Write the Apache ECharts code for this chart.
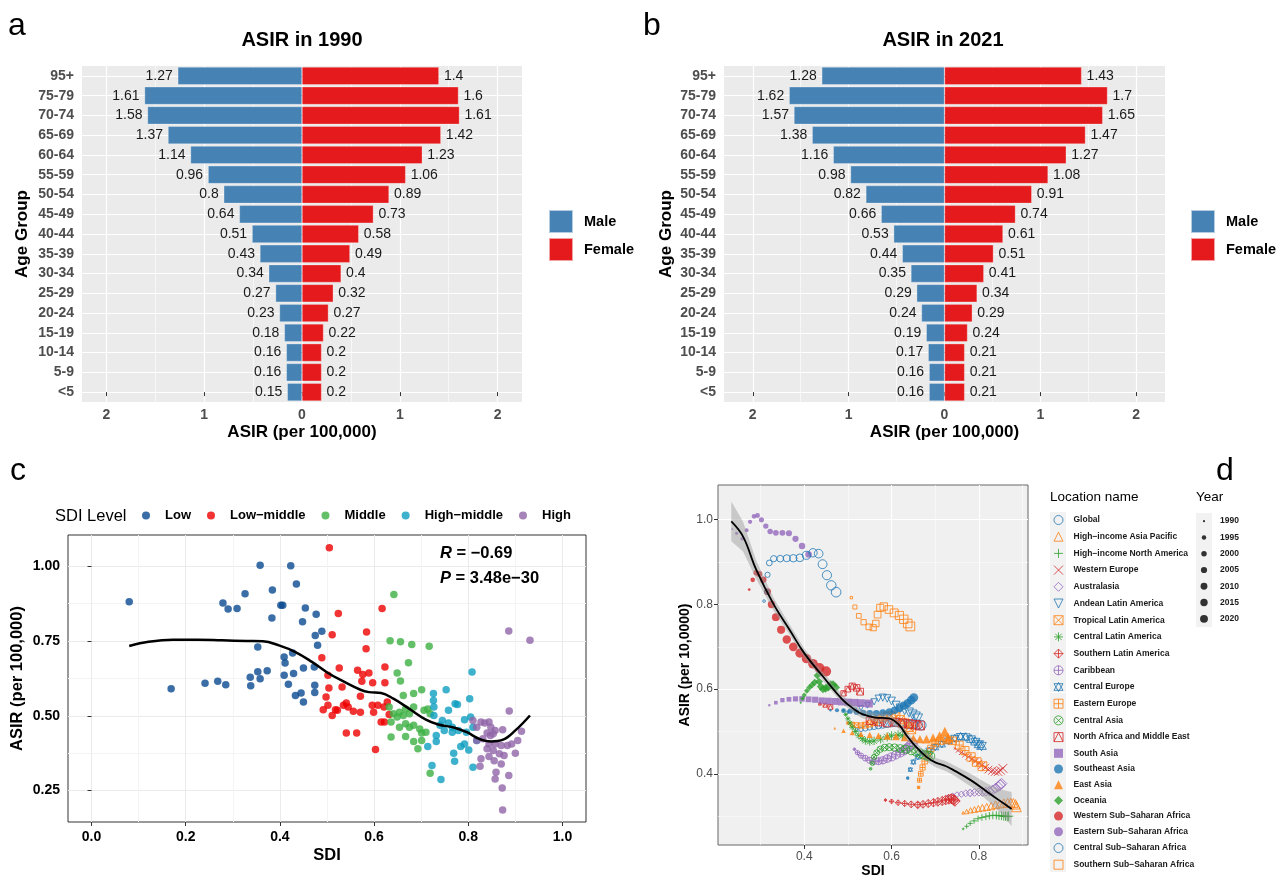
<!DOCTYPE html>
<html>
<head>
<meta charset="utf-8">
<title>ASIR figure</title>
<script src="https://cdn.jsdelivr.net/npm/echarts@6.0.0/dist/echarts.min.js"></script>
<style>
html, body { margin: 0; padding: 0; background: #fff; }
#main { width: 1286px; height: 879px; }
</style>
</head>
<body>
<div id="main"></div>
<script>
// ---------- panels a / b : age pyramids ----------
var ageGroups = ['<5', '5-9', '10-14', '15-19', '20-24', '25-29', '30-34', '35-39', '40-44', '45-49', '50-54', '55-59', '60-64', '65-69', '70-74', '75-79', '95+'];
var male1990 = [0.15, 0.16, 0.16, 0.18, 0.23, 0.27, 0.34, 0.43, 0.51, 0.64, 0.8, 0.96, 1.14, 1.37, 1.58, 1.61, 1.27];
var female1990 = [0.2, 0.2, 0.2, 0.22, 0.27, 0.32, 0.4, 0.49, 0.58, 0.73, 0.89, 1.06, 1.23, 1.42, 1.61, 1.6, 1.4];
var male2021 = [0.16, 0.16, 0.17, 0.19, 0.24, 0.29, 0.35, 0.44, 0.53, 0.66, 0.82, 0.98, 1.16, 1.38, 1.57, 1.62, 1.28];
var female2021 = [0.21, 0.21, 0.21, 0.24, 0.29, 0.34, 0.41, 0.51, 0.61, 0.74, 0.91, 1.08, 1.27, 1.47, 1.65, 1.7, 1.43];
var pyramidTicks = [-2, -1, 0, 1, 2];
var pyramidMinor = [-1.5, -0.5, 0.5, 1.5];

// ---------- panel c : countries ----------
var sdiLevels = ['Low', 'Low\u2212middle', 'Middle', 'High\u2212middle', 'High'];
var lowPts = [[0.080,0.881],[0.169,0.590],[0.241,0.609],[0.268,0.615],[0.285,0.604],[0.279,0.877],[0.290,0.857],[0.309,0.858],[0.326,0.908],[0.337,0.629],[0.338,0.600],[0.353,0.730],[0.353,0.647],[0.358,0.624],[0.358,1.003],[0.373,0.650],[0.384,0.920],[0.383,0.827],[0.402,0.869],[0.406,0.869],[0.409,0.696],[0.411,0.676],[0.409,0.635],[0.418,0.605],[0.423,1.001],[0.427,0.710],[0.429,0.641],[0.433,0.568],[0.435,0.940],[0.445,0.576],[0.448,0.814],[0.450,0.660],[0.450,0.546],[0.454,0.860],[0.473,0.663],[0.475,0.768],[0.474,0.602],[0.474,0.578],[0.477,0.839],[0.480,0.736],[0.489,0.782]];
var lowMidPts = [[0.505,1.061],[0.511,0.771],[0.489,0.694],[0.524,0.842],[0.526,0.660],[0.502,0.635],[0.504,0.593],[0.498,0.563],[0.502,0.535],[0.492,0.520],[0.511,0.501],[0.522,0.518],[0.532,0.596],[0.535,0.535],[0.541,0.543],[0.545,0.529],[0.541,0.442],[0.565,0.652],[0.563,0.442],[0.571,0.565],[0.571,0.512],[0.574,0.615],[0.576,0.638],[0.584,0.780],[0.583,0.724],[0.589,0.643],[0.596,0.535],[0.597,0.610],[0.599,0.512],[0.603,0.387],[0.608,0.535],[0.615,0.479],[0.617,0.858],[0.621,0.529],[0.623,0.610],[0.623,0.663],[0.628,0.546],[0.622,0.479],[0.632,0.504],[0.518,0.520],[0.556,0.515]];
var midPts = [[0.642,0.905],[0.634,0.751],[0.656,0.747],[0.680,0.738],[0.717,0.732],[0.673,0.677],[0.649,0.643],[0.656,0.616],[0.662,0.568],[0.684,0.574],[0.701,0.587],[0.632,0.529],[0.641,0.507],[0.649,0.496],[0.654,0.512],[0.662,0.501],[0.667,0.523],[0.675,0.507],[0.684,0.529],[0.706,0.518],[0.714,0.523],[0.719,0.507],[0.636,0.479],[0.654,0.462],[0.667,0.473],[0.675,0.462],[0.684,0.468],[0.697,0.456],[0.701,0.442],[0.710,0.445],[0.636,0.429],[0.667,0.431],[0.684,0.414],[0.701,0.417],[0.693,0.390],[0.719,0.308]];
var highMidPts = [[0.808,0.646],[0.753,0.587],[0.726,0.574],[0.726,0.551],[0.727,0.529],[0.727,0.501],[0.745,0.484],[0.740,0.468],[0.749,0.451],[0.758,0.476],[0.766,0.462],[0.772,0.540],[0.777,0.538],[0.803,0.557],[0.732,0.434],[0.732,0.414],[0.714,0.397],[0.723,0.334],[0.742,0.287],[0.769,0.375],[0.771,0.348],[0.784,0.397],[0.792,0.406],[0.801,0.386],[0.810,0.328],[0.792,0.487],[0.805,0.496],[0.810,0.462],[0.818,0.417],[0.796,0.445],[0.766,0.445],[0.779,0.451],[0.758,0.518]];
var highPts = [[0.886,0.783],[0.931,0.752],[0.887,0.516],[0.810,0.484],[0.818,0.462],[0.827,0.479],[0.835,0.476],[0.844,0.479],[0.848,0.462],[0.857,0.451],[0.873,0.453],[0.840,0.442],[0.847,0.434],[0.853,0.440],[0.818,0.417],[0.831,0.423],[0.844,0.406],[0.857,0.406],[0.870,0.401],[0.883,0.401],[0.892,0.406],[0.905,0.417],[0.913,0.448],[0.840,0.390],[0.853,0.384],[0.866,0.373],[0.876,0.367],[0.900,0.375],[0.827,0.356],[0.844,0.364],[0.855,0.350],[0.870,0.339],[0.825,0.331],[0.859,0.311],[0.886,0.300],[0.857,0.289],[0.872,0.259],[0.873,0.185]];
var loessSdiC = [0.080,0.121,0.173,0.225,0.277,0.329,0.364,0.398,0.433,0.468,0.502,0.537,0.571,0.589,0.615,0.641,0.675,0.710,0.736,0.771,0.797,0.823,0.848,0.874,0.900,0.931];
var loessFitC = [0.733,0.747,0.754,0.754,0.752,0.750,0.749,0.735,0.713,0.680,0.643,0.613,0.587,0.579,0.576,0.557,0.523,0.487,0.471,0.460,0.445,0.423,0.414,0.420,0.451,0.501];
var cTicksX = [0, 0.2, 0.4, 0.6, 0.8, 1.0];
var cMinorX = [0.1, 0.3, 0.5, 0.7, 0.9];
var cTicksY = [0.25, 0.5, 0.75, 1.0];
var cMinorY = [0.375, 0.625, 0.875];

// ---------- panel d : regions 1990-2020 ----------
var regionNames = ['Global', 'High\u2212income Asia Pacific', 'High\u2212income North America', 'Western Europe', 'Australasia', 'Andean Latin America', 'Tropical Latin America', 'Central Latin America', 'Southern Latin America', 'Caribbean', 'Central Europe', 'Eastern Europe', 'Central Asia', 'North Africa and Middle East', 'South Asia', 'Southeast Asia', 'East Asia', 'Oceania', 'Western Sub\u2212Saharan Africa', 'Eastern Sub\u2212Saharan Africa', 'Central Sub\u2212Saharan Africa', 'Southern Sub\u2212Saharan Africa'];
var yearsD = [1990, 1992, 1994, 1996, 1998, 2000, 2002, 2004, 2006, 2008, 2010, 2012, 2014, 2016, 2018, 2020];
var yearKeys = ['1990', '1995', '2000', '2005', '2010', '2015', '2020'];
var ptsGlobal = [[0.52,0.505],[0.53,0.505],[0.54,0.507],[0.55,0.51],[0.56,0.512],[0.57,0.514],[0.58,0.516],[0.59,0.518],[0.60,0.52],[0.61,0.521],[0.62,0.52],[0.63,0.518],[0.64,0.517],[0.65,0.517],[0.66,0.516],[0.668,0.515]];
var ptsHIAP = [[0.764,0.308],[0.772,0.311],[0.781,0.314],[0.79,0.316],[0.799,0.318],[0.808,0.32],[0.818,0.322],[0.828,0.324],[0.838,0.327],[0.848,0.329],[0.857,0.331],[0.866,0.332],[0.873,0.332],[0.879,0.331],[0.884,0.328],[0.886,0.322]];
var ptsHINA = [[0.764,0.27],[0.772,0.276],[0.78,0.283],[0.789,0.289],[0.798,0.294],[0.807,0.297],[0.816,0.299],[0.824,0.301],[0.832,0.302],[0.84,0.302],[0.846,0.301],[0.852,0.301],[0.857,0.3],[0.861,0.3],[0.865,0.299],[0.868,0.3]];
var ptsWE = [[0.745,0.46],[0.752,0.455],[0.76,0.45],[0.768,0.445],[0.776,0.44],[0.784,0.435],[0.792,0.43],[0.8,0.425],[0.807,0.42],[0.815,0.415],[0.822,0.41],[0.83,0.407],[0.837,0.405],[0.844,0.405],[0.85,0.408],[0.855,0.413]];
var ptsAus = [[0.73,0.348],[0.74,0.349],[0.75,0.351],[0.76,0.352],[0.77,0.354],[0.78,0.355],[0.79,0.356],[0.8,0.357],[0.808,0.357],[0.816,0.358],[0.824,0.359],[0.832,0.362],[0.838,0.366],[0.844,0.37],[0.849,0.374],[0.852,0.377]];
var ptsAndean = [[0.50,0.545],[0.515,0.55],[0.53,0.555],[0.545,0.562],[0.56,0.57],[0.57,0.578],[0.58,0.58],[0.59,0.578],[0.60,0.572],[0.61,0.562],[0.62,0.555],[0.63,0.55],[0.64,0.545],[0.648,0.54],[0.655,0.535],[0.66,0.53]];
var ptsTropical = [[0.50,0.52],[0.51,0.517],[0.52,0.515],[0.53,0.514],[0.54,0.515],[0.55,0.518],[0.56,0.522],[0.57,0.528],[0.58,0.533],[0.59,0.537],[0.60,0.538],[0.61,0.535],[0.62,0.528],[0.63,0.52],[0.64,0.51],[0.645,0.505]];
var ptsCentralLA = [[0.49,0.55],[0.495,0.54],[0.50,0.53],[0.505,0.52],[0.51,0.51],[0.517,0.50],[0.525,0.49],[0.533,0.483],[0.54,0.478],[0.55,0.476],[0.56,0.478],[0.575,0.482],[0.59,0.487],[0.60,0.49],[0.615,0.492],[0.625,0.49]];
var ptsSouthernLA = [[0.586,0.338],[0.60,0.335],[0.615,0.332],[0.63,0.33],[0.645,0.328],[0.66,0.327],[0.672,0.328],[0.684,0.33],[0.696,0.332],[0.706,0.334],[0.716,0.336],[0.724,0.338],[0.731,0.34],[0.737,0.341],[0.742,0.339],[0.745,0.336]];
var ptsCaribbean = [[0.515,0.458],[0.522,0.45],[0.53,0.443],[0.54,0.437],[0.55,0.432],[0.56,0.43],[0.57,0.43],[0.58,0.432],[0.59,0.436],[0.60,0.44],[0.61,0.445],[0.62,0.45],[0.628,0.455],[0.635,0.46],[0.642,0.466],[0.648,0.472]];
var ptsCentralEurope = [[0.637,0.39],[0.643,0.41],[0.65,0.428],[0.66,0.44],[0.672,0.448],[0.686,0.455],[0.70,0.463],[0.715,0.47],[0.73,0.478],[0.745,0.484],[0.758,0.488],[0.77,0.487],[0.782,0.482],[0.792,0.476],[0.80,0.47],[0.806,0.466]];
var ptsEasternEurope = [[0.662,0.368],[0.664,0.385],[0.667,0.40],[0.671,0.415],[0.676,0.43],[0.682,0.445],[0.69,0.46],[0.70,0.472],[0.712,0.478],[0.726,0.48],[0.74,0.478],[0.755,0.468],[0.768,0.455],[0.782,0.44],[0.795,0.428],[0.808,0.418]];
var ptsCentralAsia = [[0.552,0.412],[0.556,0.425],[0.56,0.44],[0.566,0.45],[0.574,0.458],[0.584,0.462],[0.595,0.463],[0.607,0.462],[0.62,0.46],[0.632,0.458],[0.645,0.455],[0.656,0.452],[0.666,0.448],[0.675,0.445],[0.682,0.443],[0.688,0.442]];
var ptsNAME = [[0.436,0.565],[0.448,0.562],[0.46,0.558],[0.49,0.59],[0.50,0.60],[0.51,0.607],[0.52,0.603],[0.528,0.594],[0.55,0.525],[0.57,0.522],[0.59,0.52],[0.61,0.522],[0.625,0.52],[0.64,0.518],[0.655,0.516],[0.665,0.514]];
var ptsSouthAsia = [[0.32,0.562],[0.335,0.568],[0.35,0.574],[0.365,0.576],[0.38,0.577],[0.395,0.577],[0.41,0.576],[0.425,0.575],[0.44,0.573],[0.455,0.572],[0.47,0.571],[0.485,0.57],[0.50,0.569],[0.515,0.568],[0.53,0.567],[0.548,0.566]];
var ptsSEAsia = [[0.46,0.55],[0.475,0.55],[0.49,0.549],[0.505,0.548],[0.52,0.546],[0.535,0.544],[0.55,0.543],[0.565,0.543],[0.58,0.544],[0.595,0.546],[0.607,0.55],[0.618,0.555],[0.628,0.561],[0.637,0.567],[0.645,0.574],[0.651,0.58]];
var ptsEastAsia = [[0.47,0.508],[0.49,0.502],[0.51,0.497],[0.53,0.494],[0.55,0.492],[0.57,0.49],[0.59,0.489],[0.61,0.488],[0.63,0.486],[0.65,0.484],[0.665,0.482],[0.68,0.482],[0.695,0.485],[0.71,0.49],[0.722,0.5],[0.73,0.485]];
var ptsOceania = [[0.392,0.568],[0.396,0.578],[0.40,0.586],[0.406,0.596],[0.412,0.604],[0.418,0.61],[0.424,0.616],[0.43,0.632],[0.434,0.618],[0.438,0.606],[0.443,0.6],[0.449,0.602],[0.455,0.605],[0.461,0.61],[0.466,0.61],[0.471,0.604]];
var ptsWSSA = [[0.274,0.835],[0.282,0.858],[0.29,0.875],[0.297,0.872],[0.306,0.858],[0.316,0.83],[0.325,0.80],[0.335,0.77],[0.347,0.74],[0.36,0.717],[0.375,0.70],[0.39,0.685],[0.405,0.672],[0.42,0.66],[0.435,0.65],[0.45,0.642]];
var ptsESSA = [[0.235,0.978],[0.245,0.968],[0.258,0.955],[0.268,0.975],[0.276,0.995],[0.285,1.008],[0.293,1.01],[0.302,1.0],[0.312,0.985],[0.322,0.972],[0.335,0.969],[0.35,0.969],[0.365,0.968],[0.38,0.955],[0.395,0.938],[0.41,0.918]];
var ptsCSSA = [[0.308,0.808],[0.314,0.83],[0.316,0.87],[0.32,0.898],[0.33,0.908],[0.345,0.908],[0.36,0.909],[0.375,0.909],[0.39,0.91],[0.405,0.916],[0.42,0.922],[0.433,0.92],[0.442,0.895],[0.452,0.869],[0.462,0.845],[0.473,0.829]];
var ptsSSSA = [[0.508,0.816],[0.516,0.794],[0.525,0.773],[0.536,0.758],[0.548,0.747],[0.558,0.745],[0.564,0.755],[0.568,0.776],[0.574,0.792],[0.582,0.795],[0.594,0.788],[0.606,0.78],[0.618,0.774],[0.628,0.765],[0.637,0.755],[0.643,0.748]];
var regionPts = [ptsGlobal, ptsHIAP, ptsHINA, ptsWE, ptsAus, ptsAndean, ptsTropical, ptsCentralLA, ptsSouthernLA, ptsCaribbean, ptsCentralEurope, ptsEasternEurope, ptsCentralAsia, ptsNAME, ptsSouthAsia, ptsSEAsia, ptsEastAsia, ptsOceania, ptsWSSA, ptsESSA, ptsCSSA, ptsSSSA];
var loessSdiD = [0.233,0.26,0.29,0.33,0.366,0.40,0.442,0.487,0.515,0.533,0.563,0.594,0.616,0.635,0.654,0.68,0.70,0.725,0.745,0.783,0.821,0.85,0.875];
var loessFitD = [0.996,0.96,0.882,0.80,0.741,0.685,0.631,0.576,0.552,0.541,0.533,0.531,0.517,0.49,0.466,0.44,0.427,0.418,0.407,0.384,0.356,0.335,0.317];
var loessLoD = [0.949,0.925,0.860,0.785,0.729,0.674,0.621,0.566,0.542,0.531,0.523,0.521,0.507,0.48,0.456,0.429,0.416,0.406,0.395,0.369,0.336,0.307,0.277];
var loessHiD = [1.043,0.995,0.904,0.815,0.753,0.696,0.641,0.586,0.562,0.551,0.543,0.541,0.527,0.50,0.476,0.451,0.438,0.43,0.419,0.399,0.376,0.363,0.357];
var dTicksX = [0.4, 0.6, 0.8];
var dMinorX = [0.3, 0.5, 0.7, 0.9];
var dTicksY = [0.4, 0.6, 0.8, 1.0];
var dMinorY = [0.3, 0.5, 0.7, 0.9];

// ---------- styles ----------
var FF = '"Liberation Sans", Arial, sans-serif';
var cColors = ['#0A4A90', '#EE0000', '#3CB043', '#0E9DBF', '#9065A7'];
var dColors = ['#1F77B4', '#FF7F0E', '#2CA02C', '#D62728', '#9467BD'];
var dShapes = [
  ['circle', true, 1.1], ['triangle', true, 1.1], ['path://M5,0V10M0,5H10', true, 1.1], ['path://M0,0L10,10M10,0L0,10', true, 1],
  ['diamond', true, 1.2], ['path://M0,0H10L5,10Z', true, 1.1], ['path://M0,0H10V10H0ZM0,0L10,10M10,0L0,10', true, 1],
  ['path://M5,0V10M0,5H10M1.5,1.5L8.5,8.5M8.5,1.5L1.5,8.5', true, 1.1], ['path://M5,0L10,5L5,10L0,5ZM5,0V10M0,5H10', true, 1.2],
  ['path://M10,5A5,5,0,1,1,0,5A5,5,0,1,1,10,5ZM5,0V10M0,5H10', true, 1.1], ['path://M5,0L10,8.66H0ZM5,10L10,1.34H0Z', true, 1.1],
  ['path://M0,0H10V10H0ZM5,0V10M0,5H10', true, 1], ['path://M10,5A5,5,0,1,1,0,5A5,5,0,1,1,10,5ZM1.5,1.5L8.5,8.5M8.5,1.5L1.5,8.5', true, 1.1],
  ['path://M0,0H10V10H0ZM0,10L5,0L10,10', true, 1], ['rect', false, 0.9], ['circle', false, 1], ['triangle', false, 1.1],
  ['diamond', false, 1.1], ['circle', false, 1.15], ['circle', false, 0.75], ['circle', true, 1.1], ['rect', true, 1]
];

function font(size, weight, color) {
  return { fontFamily: FF, fontSize: size, fontWeight: weight, color: color };
}
function yearSize(y) {
  return 2.4 + 6.4 * Math.sqrt((y - 1990) / 30);
}
function pairs(xs, ys) {
  return xs.map(function (x, i) { return [x, ys[i]]; });
}

var grids = [], xAxes = [], yAxes = [], series = [];

function valueAxis(gi, pos, min, max, ticks, split, label, name) {
  var ax = {
    type: 'value', gridIndex: gi, position: pos, min: min, max: max, splitNumber: split.n,
    axisLine: { show: false },
    axisTick: { show: !!label, length: 4, lineStyle: { color: '#333', width: 1 }, customValues: ticks },
    axisLabel: label ? Object.assign({ customValues: ticks }, label) : { show: false, customValues: ticks },
    splitLine: { show: true, lineStyle: { color: split.color, width: split.width } }
  };
  if (name) {
    ax.name = name.text; ax.nameLocation = 'middle'; ax.nameGap = name.gap;
    ax.nameRotate = name.rotate || 0; ax.nameTextStyle = name.style;
  }
  return ax;
}

function addPyramid(left, width, lim, male, female, yNameGap) {
  var gi = grids.length;
  grids.push({ left: left, top: 66, width: width, height: 336, show: true, backgroundColor: '#EBEBEB', borderWidth: 0 });
  var xi = xAxes.length;
  xAxes.push(valueAxis(gi, 'bottom', -lim, lim, pyramidTicks, { n: 4, color: '#fff', width: 1.2 },
    Object.assign(font(14, 'bold', '#4D4D4D'), { margin: 6, formatter: function (v) { return String(Math.abs(v)); } }),
    { text: 'ASIR (per 100,000)', gap: 22, style: font(17, 'bold', '#000') }));
  xAxes.push(valueAxis(gi, 'top', -lim, lim, pyramidMinor, { n: 9, color: '#fff', width: 0.6 }, null, null));
  var yi = yAxes.length;
  yAxes.push({
    type: 'category', gridIndex: gi, position: 'left', data: ageGroups,
    axisLine: { show: false },
    axisTick: { show: true, alignWithLabel: true, length: 4, lineStyle: { color: '#333' } },
    axisLabel: Object.assign(font(14, 'bold', '#4D4D4D'), { margin: 8, interval: 0 }),
    splitLine: { show: false },
    name: 'Age Group', nameLocation: 'middle', nameGap: yNameGap, nameRotate: 90, nameTextStyle: font(17, 'bold', '#000')
  });
  var rows = ageGroups.map(function (g, i) { return i; });
  yAxes.push(valueAxis(gi, 'right', -0.5, ageGroups.length - 0.5, rows, { n: 17, color: '#fff', width: 1.2 }, null, null));
  series.push({
    name: 'Male', type: 'bar', xAxisIndex: xi, yAxisIndex: yi, stack: 'p' + gi, barWidth: '90%',
    data: male.map(function (v) { return -v; }),
    itemStyle: { color: '#4682B4', borderColor: 'rgba(255,255,255,0.6)', borderWidth: 0.5 },
    label: Object.assign({ show: true, position: 'left', distance: 5, formatter: function (p) { return String(-p.value); } }, font(14, 'normal', '#1A1A1A'))
  });
  series.push({
    name: 'Female', type: 'bar', xAxisIndex: xi, yAxisIndex: yi, stack: 'p' + gi, barWidth: '90%',
    data: female,
    itemStyle: { color: '#E41A1C', borderColor: 'rgba(255,255,255,0.6)', borderWidth: 0.5 },
    label: Object.assign({ show: true, position: 'right', distance: 5 }, font(14, 'normal', '#1A1A1A'))
  });
}

addPyramid(82, 440, 2.25, male1990, female1990, 51);
addPyramid(724, 441, 2.3, male2021, female2021, 49);

// panel c
var gc = grids.length;
grids.push({ left: 68, top: 535, width: 518, height: 287, show: true, backgroundColor: '#fff', borderColor: '#333', borderWidth: 1 });
var cx = xAxes.length;
xAxes.push(valueAxis(gc, 'bottom', -0.05, 1.05, cTicksX, { n: 5, color: '#EBEBEB', width: 1 },
  Object.assign(font(14, 'bold', '#000'), { margin: 8, formatter: function (v) { return v.toFixed(1); } }),
  { text: 'SDI', gap: 25, style: font(16.5, 'bold', '#000') }));
xAxes.push(valueAxis(gc, 'top', -0.05, 1.05, cMinorX, { n: 11, color: '#F4F4F4', width: 1 }, null, null));
var cy = yAxes.length;
yAxes.push(valueAxis(gc, 'left', 0.145, 1.104, cTicksY, { n: 4, color: '#EBEBEB', width: 1 },
  Object.assign(font(14, 'bold', '#000'), { margin: 8, formatter: function (v) { return v.toFixed(2); } }),
  { text: 'ASIR (per 100,000)', gap: 42, rotate: 90, style: font(16.5, 'bold', '#000') }));
yAxes.push(valueAxis(gc, 'right', 0.145, 1.104, cMinorY, { n: 8, color: '#F4F4F4', width: 1 }, null, null));
[lowPts, lowMidPts, midPts, highMidPts, highPts].forEach(function (pts, k) {
  series.push({
    name: sdiLevels[k], type: 'scatter', xAxisIndex: cx, yAxisIndex: cy, data: pts,
    symbol: 'circle', symbolSize: 7.5, itemStyle: { color: cColors[k] }
  });
});
series.push({
  name: 'loessC', type: 'line', xAxisIndex: cx, yAxisIndex: cy, data: pairs(loessSdiC, loessFitC),
  smooth: 0.4, showSymbol: false, lineStyle: { color: '#000', width: 2.5 }, z: 5, silent: true
});

// panel d
var gd = grids.length;
grids.push({ left: 718, top: 485, width: 310, height: 361, show: true, backgroundColor: '#F0F0F0', borderColor: '#666', borderWidth: 1 });
var dx = xAxes.length;
xAxes.push(valueAxis(gd, 'bottom', 0.2025, 0.9125, dTicksX, { n: 4, color: '#fff', width: 1.1 },
  Object.assign(font(12, 'normal', '#4D4D4D'), { margin: 6, formatter: function (v) { return v.toFixed(1); } }),
  { text: 'SDI', gap: 19, style: font(14, 'bold', '#000') }));
xAxes.push(valueAxis(gd, 'top', 0.2025, 0.9125, dMinorX, { n: 7, color: '#fff', width: 0.5 }, null, null));
var dy = yAxes.length;
yAxes.push(valueAxis(gd, 'left', 0.232, 1.082, dTicksY, { n: 4, color: '#fff', width: 1.1 },
  Object.assign(font(12, 'normal', '#4D4D4D'), { margin: 5, formatter: function (v) { return v.toFixed(1); } }),
  { text: 'ASIR (per 10,0000)', gap: 25, rotate: 90, style: font(14, 'bold', '#000') }));
yAxes.push(valueAxis(gd, 'right', 0.232, 1.082, dMinorY, { n: 8, color: '#fff', width: 0.5 }, null, null));
regionPts.forEach(function (pts, k) {
  var shp = dShapes[k], col = dColors[k % 5];
  series.push({
    name: regionNames[k], type: 'scatter', xAxisIndex: dx, yAxisIndex: dy,
    data: pts.map(function (p, i) { return [p[0], p[1], yearsD[i]]; }),
    symbol: shp[0], symbolKeepAspect: true,
    symbolSize: (function (f) { return function (v) { return yearSize(v[2]) * f; }; })(shp[2]),
    itemStyle: shp[1] ? { color: 'rgba(0,0,0,0)', borderColor: col, borderWidth: 1 } : { color: col },
    z: 2
  });
});
// confidence band of the smooth, drawn as one polygon through the axes
series.push({
  name: 'ciBand', type: 'custom', xAxisIndex: dx, yAxisIndex: dy, z: 3, silent: true,
  data: pairs(loessSdiD, loessFitD),
  renderItem: function (params, api) {
    if (params.dataIndex !== 0) return;
    var pts = [];
    loessSdiD.forEach(function (x, i) { pts.push(api.coord([x, loessHiD[i]])); });
    for (var i = loessSdiD.length - 1; i >= 0; i--) pts.push(api.coord([loessSdiD[i], loessLoD[i]]));
    return { type: 'polygon', shape: { points: pts }, style: { fill: 'rgba(150,150,150,0.45)' } };
  }
});
series.push({
  name: 'loessD', type: 'line', xAxisIndex: dx, yAxisIndex: dy, data: pairs(loessSdiD, loessFitD),
  smooth: 0.4, showSymbol: false, lineStyle: { color: '#000', width: 1.8 }, z: 4, silent: true
});

// year size key
var gy = grids.length;
grids.push({ left: 1196, top: 513, width: 16, height: 114, show: true, backgroundColor: '#F2F2F2', borderWidth: 0 });
xAxes.push({ type: 'value', gridIndex: gy, min: -1, max: 1, show: false });
yAxes.push({
  type: 'category', gridIndex: gy, data: yearKeys, inverse: true, position: 'right',
  axisLine: { show: false }, axisTick: { show: false }, splitLine: { show: false },
  axisLabel: Object.assign(font(8.5, 'bold', '#1A1A1A'), { margin: 8, interval: 0 })
});
series.push({
  name: 'yearKey', type: 'scatter', xAxisIndex: xAxes.length - 1, yAxisIndex: yAxes.length - 1,
  data: yearKeys.map(function (y) { return [0, y]; }),
  symbol: 'circle', symbolSize: function (v) { return yearSize(Number(v[1])) * 0.9; },
  itemStyle: { color: '#000' }, silent: true
});

var option = {
  animation: false,
  backgroundColor: '#fff',
  title: [
    { text: 'a', left: 8, top: 10, padding: 0, textStyle: font(32, 'normal', '#000') },
    { text: 'b', left: 643, top: 10, padding: 0, textStyle: font(32, 'normal', '#000') },
    { text: 'c', left: 10, top: 455, padding: 0, textStyle: font(32, 'normal', '#000') },
    { text: 'd', left: 1216, top: 455, padding: 0, textStyle: font(32, 'normal', '#000') },
    { text: 'ASIR in 1990', left: 302, textAlign: 'center', top: 30, padding: 0, textStyle: font(20, 'bold', '#000') },
    { text: 'ASIR in 2021', left: 943, textAlign: 'center', top: 30, padding: 0, textStyle: font(20, 'bold', '#000') },
    { text: 'SDI Level', left: 55, top: 508, padding: 0, textStyle: font(16.5, 'normal', '#000') },
    {
      text: '{i|R} = \u22120.69\n{i|P} = 3.48e\u221230', left: 440, top: 541, padding: 0,
      textStyle: Object.assign(font(16.5, 'bold', '#000'), {
        lineHeight: 25,
        rich: { i: Object.assign(font(16.5, 'bold', '#000'), { fontStyle: 'italic', lineHeight: 25 }) }
      })
    },
    { text: 'Location name', left: 1050, top: 490, padding: 0, textStyle: font(13.5, 'normal', '#000') },
    { text: 'Year', left: 1196, top: 490, padding: 0, textStyle: font(13.5, 'normal', '#000') }
  ],
  graphic: [
    { type: 'rect', shape: { x: 1050, y: 512, width: 16, height: 180 }, style: { fill: '#F2F2F2' }, z: 0, silent: true },
    { type: 'rect', shape: { x: 1050, y: 693, width: 16, height: 179 }, style: { fill: '#F2F2F2' }, z: 0, silent: true }
  ],
  legend: [
    {
      data: ['Male', 'Female'], left: 548, top: 209, padding: 0, orient: 'vertical', icon: 'rect',
      itemWidth: 24, itemHeight: 23, itemGap: 3, selectedMode: false,
      textStyle: Object.assign(font(14.5, 'bold', '#000'), { padding: [0, 0, 0, 6] })
    },
    {
      data: ['Male', 'Female'], left: 1190, top: 209, padding: 0, orient: 'vertical', icon: 'rect',
      itemWidth: 24, itemHeight: 23, itemGap: 3, selectedMode: false,
      textStyle: Object.assign(font(14.5, 'bold', '#000'), { padding: [0, 0, 0, 6] })
    },
    {
      data: sdiLevels, left: 142, top: 509, padding: 0, orient: 'horizontal', icon: 'circle',
      itemWidth: 28, itemHeight: 8, itemGap: 16, selectedMode: false,
      textStyle: font(13, 'bold', '#000')
    },
    {
      data: regionNames, left: 1053.5, top: 515, padding: 0, orient: 'vertical', height: 364,
      itemWidth: 9, itemHeight: 9, itemGap: 6.7, selectedMode: false,
      itemStyle: { borderWidth: 1 },
      textStyle: Object.assign(font(8.5, 'bold', '#1A1A1A'), { padding: [0, 0, 0, 5.5] })
    }
  ],
  grid: grids,
  xAxis: xAxes,
  yAxis: yAxes,
  series: series
};

var chart = echarts.init(document.getElementById('main'));
chart.setOption(option);
</script>
</body>
</html>
